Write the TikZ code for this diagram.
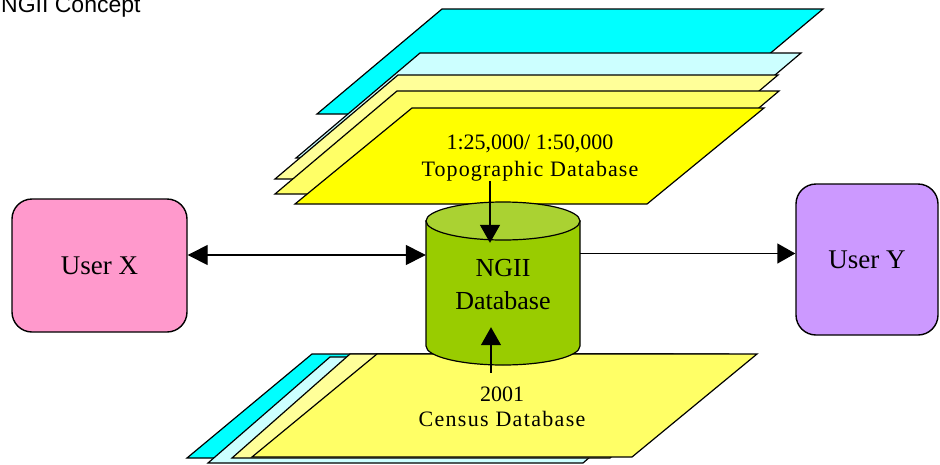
\documentclass[tikz,border=0pt]{standalone}
\usepackage{fontspec}
\setmainfont{Liberation Serif}
\setsansfont{Liberation Sans}
\usetikzlibrary{arrows.meta}
\definecolor{cyanlayer}{HTML}{00FFFF}
\definecolor{icelayer}{HTML}{CCFFFF}
\definecolor{palelayer}{HTML}{FFFF99}
\definecolor{creamlayer}{HTML}{FFFF66}
\definecolor{toplayer}{HTML}{FFFF00}
\definecolor{dbside}{HTML}{99CC00}
\definecolor{dbtop}{HTML}{AAD232}
\definecolor{userpink}{HTML}{FF99CC}
\definecolor{userlilac}{HTML}{CC99FF}
\tikzstyle{user} = [draw, line width=1.4pt, rounded corners=20pt, font=\fontsize{27}{30}\selectfont]
\tikzstyle{sheet} = [draw, line width=1.2pt]
\tikzstyle{mapnote} = [align=center, inner sep=0pt, font=\fontsize{22}{27}\selectfont]
\tikzstyle{wire} = [-{Triangle[length=18pt,width=20pt]}, line width=1.4pt]
\tikzstyle{biwire} = [{Triangle[length=20pt,width=20pt]}-{Triangle[length=20pt,width=20pt]}, line width=1.4pt]

\begin{document}
\begin{tikzpicture}[x=1pt,y=-1pt]
    \useasboundingbox (0,0) rectangle (940,464);
    \node[anchor=base west, inner sep=0pt, font=\sffamily\fontsize{23}{26}\selectfont] (title) at (1,12) {NGII Concept};
    % topographic sheets
    \foreach \col/\x/\y/\w/\h/\d in {cyanlayer/442/9/381/105/125, icelayer/420/53/381/105/124, palelayer/398/75/380/104/123, creamlayer/397/91/382/103/122, toplayer/412/108/352/96/117}
        \path[sheet, fill=\col] (\x,\y) -- ++(\w,0) -- ++(-\d,\h) -- ++(-\w,0) -- cycle;
    % census sheets
    \foreach \col/\x/\y/\w/\h/\d in {cyanlayer/312/354/360/104/125, icelayer/330/357/375/106/122, palelayer/350/354/378/104/118, creamlayer/377/354/380/103/125}
        \path[sheet, fill=\col] (\x,\y) -- ++(\w,0) -- ++(-\d,\h) -- ++(-\w,0) -- cycle;
    % database drum
    \path[sheet, fill=dbside] (426,221) -- (426,346) arc[start angle=180, end angle=0, x radius=77, y radius=19] -- (580,221) -- cycle;
    \path[sheet, fill=dbtop] (503,221) ellipse [x radius=77, y radius=19];
    \node[mapnote, font=\fontsize{26}{33}\selectfont, minimum width=154pt, minimum height=84pt] (ngii) at (503,285) {NGII\\Database};
    \node[user, fill=userpink, minimum width=175pt, minimum height=133pt] (userx) at (99.5,265.5) {User X};
    \node[user, fill=userlilac, minimum width=142pt, minimum height=151pt] (usery) at (867,259.5) {User Y};
    \node[mapnote] (topo) at (530,158) {1:25,000/ 1:50,000\\{\addfontfeatures{LetterSpace=5}Topographic Database}};
    \node[mapnote, font=\fontsize{22}{25}\selectfont] (census) at (502,407) {2001\\{\addfontfeatures{LetterSpace=6}Census Database}};
    \coordinate (topin) at ([xshift=-13pt]ngii.north);
    \coordinate (botin) at ([xshift=-12pt]ngii.south);
    \draw[biwire] ([yshift=10.5pt]userx.east) -- ([yshift=10.5pt]userx.east -| ngii.west);
    \draw[wire] ([yshift=6pt]usery.west -| ngii.east) -- ([yshift=6pt]usery.west);
    \draw[wire] (topo.south -| topin) -- (topin);
    \draw[wire] ([yshift=14pt]census.north -| botin) -- (botin);
\end{tikzpicture}
\end{document}
